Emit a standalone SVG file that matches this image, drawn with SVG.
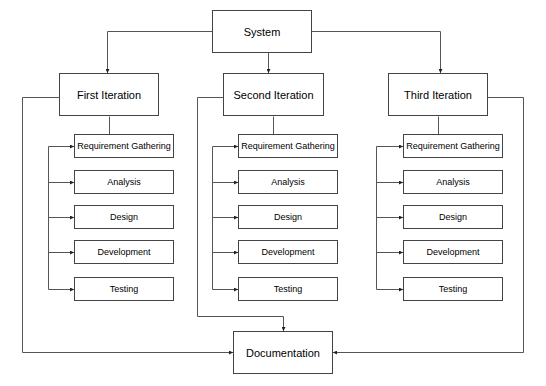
<svg xmlns="http://www.w3.org/2000/svg" width="546" height="386" viewBox="0 0 546 386">
  <style>
    .box { fill: #fff; stroke: #444; stroke-width: 1; }
    .edge { fill: none; stroke: #555; stroke-width: 1; }
    .title { font-family: "Liberation Sans", Arial, sans-serif; font-size: 11px; fill: #000; text-anchor: middle; dominant-baseline: central; }
    .item { font-family: "Liberation Sans", Arial, sans-serif; font-size: 9px; fill: #000; text-anchor: middle; dominant-baseline: central; }
  </style>
  <defs>
    <marker id="arrow" markerUnits="userSpaceOnUse" markerWidth="4" markerHeight="4" refX="4" refY="2" orient="auto">
      <path d="M0,0 L4,2 L0,4 z" fill="#222"/>
    </marker>
  </defs>
  <rect width="546" height="386" fill="#fff"/>

  <g id="connectors" class="edge">
    <!-- System to iterations -->
    <path d="M212.5,31.5 H107.5 V73" marker-end="url(#arrow)"/>
    <path d="M268.5,52.5 V73" marker-end="url(#arrow)"/>
    <path d="M311.5,31.5 H440.5 V73" marker-end="url(#arrow)"/>
    <!-- iterations to documentation -->
    <path d="M59.5,97.5 H22.5 V352.5 H233" marker-end="url(#arrow)"/>
    <path d="M223.5,97.5 H197.5 V316.5 H283.5 V331" marker-end="url(#arrow)"/>
    <path d="M487.5,97.5 H523.5 V352.5 H333" marker-end="url(#arrow)"/>
    <!-- iteration to phase column -->
    <path d="M109.5,116.5 V134"/>
    <path d="M273.5,116.5 V134"/>
    <path d="M438.5,116.5 V134"/>
    <!-- first iteration phases -->
    <path d="M48.5,146.5 V289.5"/>
    <path d="M48.5,146.5 H74" marker-end="url(#arrow)"/>
    <path d="M48.5,182.5 H74" marker-end="url(#arrow)"/>
    <path d="M48.5,217.5 H74" marker-end="url(#arrow)"/>
    <path d="M48.5,252.5 H74" marker-end="url(#arrow)"/>
    <path d="M48.5,289.5 H74" marker-end="url(#arrow)"/>
    <!-- second iteration phases -->
    <path d="M212.5,146.5 V289.5"/>
    <path d="M212.5,146.5 H238" marker-end="url(#arrow)"/>
    <path d="M212.5,182.5 H238" marker-end="url(#arrow)"/>
    <path d="M212.5,217.5 H238" marker-end="url(#arrow)"/>
    <path d="M212.5,252.5 H238" marker-end="url(#arrow)"/>
    <path d="M212.5,289.5 H238" marker-end="url(#arrow)"/>
    <!-- third iteration phases -->
    <path d="M376.5,146.5 V289.5"/>
    <path d="M376.5,146.5 H403" marker-end="url(#arrow)"/>
    <path d="M376.5,182.5 H403" marker-end="url(#arrow)"/>
    <path d="M376.5,217.5 H403" marker-end="url(#arrow)"/>
    <path d="M376.5,252.5 H403" marker-end="url(#arrow)"/>
    <path d="M376.5,289.5 H403" marker-end="url(#arrow)"/>
  </g>

  <g id="system"><rect class="box" x="212.5" y="10.5" width="99" height="42"/><text class="title" x="262" y="31.5">System</text></g>

  <g id="first-iteration"><rect class="box" x="59.5" y="73.5" width="99" height="42"/><text class="title" x="109" y="94.5">First Iteration</text></g>
  <g id="second-iteration"><rect class="box" x="223.5" y="73.5" width="100" height="42"/><text class="title" x="273.5" y="94.5">Second Iteration</text></g>
  <g id="third-iteration"><rect class="box" x="388.5" y="73.5" width="99" height="42"/><text class="title" x="438" y="94.5">Third Iteration</text></g>

  <g id="first-requirements"><rect class="box" x="74.5" y="134.5" width="99" height="23"/><text class="item" x="124" y="146">Requirement Gathering</text></g>
  <g id="first-analysis"><rect class="box" x="74.5" y="170.5" width="99" height="23"/><text class="item" x="124" y="182">Analysis</text></g>
  <g id="first-design"><rect class="box" x="74.5" y="205.5" width="99" height="23"/><text class="item" x="124" y="217">Design</text></g>
  <g id="first-development"><rect class="box" x="74.5" y="240.5" width="99" height="23"/><text class="item" x="124" y="252">Development</text></g>
  <g id="first-testing"><rect class="box" x="74.5" y="277.5" width="99" height="23"/><text class="item" x="124" y="289">Testing</text></g>

  <g id="second-requirements"><rect class="box" x="238.5" y="134.5" width="99" height="23"/><text class="item" x="288" y="146">Requirement Gathering</text></g>
  <g id="second-analysis"><rect class="box" x="238.5" y="170.5" width="99" height="23"/><text class="item" x="288" y="182">Analysis</text></g>
  <g id="second-design"><rect class="box" x="238.5" y="205.5" width="99" height="23"/><text class="item" x="288" y="217">Design</text></g>
  <g id="second-development"><rect class="box" x="238.5" y="240.5" width="99" height="23"/><text class="item" x="288" y="252">Development</text></g>
  <g id="second-testing"><rect class="box" x="238.5" y="277.5" width="99" height="23"/><text class="item" x="288" y="289">Testing</text></g>

  <g id="third-requirements"><rect class="box" x="403.5" y="134.5" width="99" height="23"/><text class="item" x="453" y="146">Requirement Gathering</text></g>
  <g id="third-analysis"><rect class="box" x="403.5" y="170.5" width="99" height="23"/><text class="item" x="453" y="182">Analysis</text></g>
  <g id="third-design"><rect class="box" x="403.5" y="205.5" width="99" height="23"/><text class="item" x="453" y="217">Design</text></g>
  <g id="third-development"><rect class="box" x="403.5" y="240.5" width="99" height="23"/><text class="item" x="453" y="252">Development</text></g>
  <g id="third-testing"><rect class="box" x="403.5" y="277.5" width="99" height="23"/><text class="item" x="453" y="289">Testing</text></g>

  <g id="documentation"><rect class="box" x="233.5" y="331.5" width="99" height="42"/><text class="title" x="283" y="352.5">Documentation</text></g>
</svg>
